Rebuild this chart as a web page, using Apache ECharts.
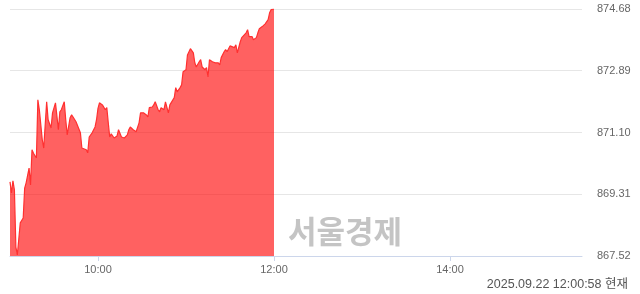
<!DOCTYPE html>
<html><head><meta charset="utf-8">
<script src="https://cdn.jsdelivr.net/npm/echarts@6/dist/echarts.min.js"></script>
<style>html,body{margin:0;padding:0;background:#fff}#c{width:640px;height:294px}</style>
</head><body><div id="c"></div>
<script>
const times = ["09:00","09:01","09:02","09:03","09:04","09:05","09:07","09:08","09:09","09:10","09:11","09:13","09:14","09:15","09:16","09:18","09:19","09:20","09:22","09:23","09:25","09:26","09:28","09:29","09:31","09:33","09:34","09:35","09:37","09:38","09:39","09:41","09:42","09:43","09:45","09:46","09:48","09:49","09:50","09:52","09:53","09:54","09:56","09:57","09:58","09:59","10:00","10:01","10:02","10:03","10:05","10:06","10:07","10:08","10:09","10:10","10:11","10:13","10:14","10:16","10:17","10:18","10:20","10:21","10:22","10:24","10:25","10:26","10:28","10:29","10:30","10:31","10:33","10:34","10:35","10:37","10:38","10:39","10:41","10:42","10:43","10:45","10:46","10:48","10:49","10:50","10:52","10:53","10:54","10:56","10:57","10:58","11:00","11:01","11:03","11:05","11:06","11:07","11:09","11:10","11:11","11:13","11:14","11:15","11:16","11:18","11:19","11:20","11:22","11:23","11:24","11:26","11:27","11:28","11:30","11:31","11:33","11:34","11:35","11:37","11:38","11:39","11:41","11:42","11:43","11:45","11:46","11:48","11:49","11:50","11:52","11:53","11:54","11:56","11:57","11:58","11:59","12:00"];
const values = [869.67,869.35,869.70,869.44,867.78,867.55,868.48,868.51,868.62,869.49,869.64,870.07,869.58,870.60,870.50,870.36,872.05,871.76,870.89,870.65,871.99,871.47,871.23,871.67,871.96,871.18,871.70,871.76,871.99,871.47,871.03,871.53,871.61,871.55,871.41,871.38,871.09,870.65,870.60,870.60,870.51,870.97,871.09,871.09,871.26,871.47,871.80,871.96,871.96,871.90,871.76,871.82,871.38,870.97,871.06,871.03,870.94,871.00,871.18,870.97,871.00,870.94,871.03,871.18,871.26,871.18,871.18,871.12,871.38,871.67,871.70,871.67,871.61,871.55,871.82,871.84,871.90,871.99,871.76,871.70,871.82,871.76,871.99,871.67,871.90,871.93,872.11,872.40,872.28,872.40,872.48,872.86,872.92,873.35,873.53,873.41,873.12,873.00,873.15,873.21,873.00,872.92,872.98,872.71,873.21,873.15,873.12,873.12,873.12,873.06,873.27,873.44,873.50,873.44,873.61,873.64,873.56,873.64,873.41,873.73,873.85,873.82,873.99,874.08,873.88,873.88,873.79,873.85,873.99,874.11,874.17,874.22,874.25,874.37,874.57,874.66,874.68,874.68];
const xTickTimes = ["10:00","12:00","14:00"];
const yTicks = [867.52,869.31,871.10,872.89,874.68];
const stampText = "2025.09.22 12:00:58 현재";
const watermark = "서울경제";

function toMin(t){const p=t.split(":");return (+p[0]-9)*60+(+p[1]);}
function toTime(m){const h=9+Math.floor(m/60),mm=m%60;return (h<10?"0":"")+h+":"+(mm<10?"0":"")+mm;}
const data = times.map((t,i)=>[toMin(t),values[i]]);
const xTicks = xTickTimes.map(toMin);
const chart = echarts.init(document.getElementById('c'),null,{renderer:'canvas'});
chart.setOption({
  animation:false,
  grid:{left:10,right:58,top:9,bottom:38},
  xAxis:{type:'value',min:0,max:390,
    axisLine:{show:true,lineStyle:{color:'#ccd6eb'}},
    axisTick:{show:true,length:5,lineStyle:{color:'#ccd6eb'},customValues:xTicks},
    axisLabel:{customValues:xTicks,formatter:v=>toTime(v),color:'#666',fontSize:11,fontFamily:'Liberation Sans',margin:8},
    splitLine:{show:false}},
  yAxis:{type:'value',position:'right',min:yTicks[0],max:yTicks[yTicks.length-1],interval:1.79,
    axisLine:{show:false},axisTick:{show:false},
    axisLabel:{formatter:v=>v.toFixed(2),color:'#666',fontSize:11,fontFamily:'Liberation Sans',margin:15},
    splitLine:{lineStyle:{color:'#e6e6e6'}}},
  series:[{type:'line',data:data,showSymbol:false,symbol:'none',
    lineStyle:{color:'#ff3030',width:1.2},
    areaStyle:{color:'rgba(255,0,0,0.62)',opacity:1}}],
  graphic:[
    {type:'text',left:288,top:216,style:{text:watermark,fontSize:31,fontWeight:'bold',fill:'#c4c4c4',fontFamily:'Noto Sans CJK KR'}},
    {type:'text',right:12,top:278,style:{text:stampText,fontSize:12.5,fill:'#555',fontFamily:'Liberation Sans, Noto Sans CJK KR'}}
  ]
});
</script></body></html>
